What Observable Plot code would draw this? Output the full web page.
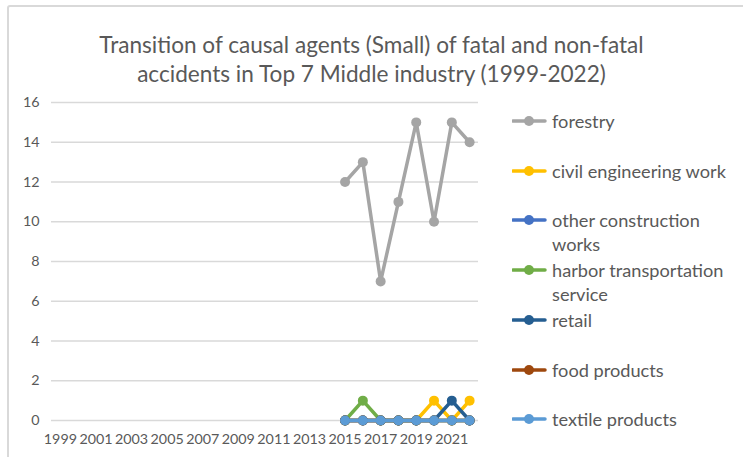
<!DOCTYPE html>
<html><head><meta charset="utf-8">
<script src="https://cdn.jsdelivr.net/npm/d3@7"></script>
<script src="https://cdn.jsdelivr.net/npm/@observablehq/plot@0.6"></script>
<style>
body{margin:0;background:#fff;font-family:Lato,"Open Sans",sans-serif;}
#wrap{position:relative;width:743px;height:457px;overflow:hidden;background:#fff;}
#frame{position:absolute;left:7px;top:5px;width:800px;height:500px;border:2px solid #d9d9d9;border-radius:3px;box-sizing:border-box;}
#title{position:absolute;left:0;top:30px;width:743px;text-align:center;color:#595959;font-size:22.6px;line-height:29px;}
#chart{position:absolute;left:0;top:90px;}
.item{position:absolute;left:512px;color:#595959;font-size:18.2px;line-height:24px;}
.item svg{position:absolute;left:0;top:0;}
.item span{position:absolute;left:40px;top:0;white-space:nowrap;}
</style>
</head><body>
<div id="wrap">
  <div id="frame"></div>
  <div id="title">Transition of causal agents (Small) of fatal and non-fatal<br>accidents in Top 7 Middle industry (1999-2022)</div>
  <div id="chart"></div>
  <div id="legend"></div>
</div>
<script>
const years = [1999,2000,2001,2002,2003,2004,2005,2006,2007,2008,2009,2010,2011,2012,2013,2014,2015,2016,2017,2018,2019,2020,2021,2022];
const xTickLabels = [1999,2001,2003,2005,2007,2009,2011,2013,2015,2017,2019,2021];
const yTickLabels = [0,2,4,6,8,10,12,14,16];
const seriesNames = ["forestry","civil engineering work","other construction works","harbor transportation service","retail","food products","textile products"];
const seriesColors = ["#A5A5A5","#FFC000","#4472C4","#70AD47","#255E91","#9E480E","#5B9BD5"];
const N = null;
const forestry     = [N,N,N,N,N,N,N,N,N,N,N,N,N,N,N,N,12,13,7,11,15,10,15,14];
const civilEng     = [N,N,N,N,N,N,N,N,N,N,N,N,N,N,N,N,0,0,0,0,0,1,0,1];
const otherConstr  = [N,N,N,N,N,N,N,N,N,N,N,N,N,N,N,N,0,0,0,0,0,0,0,0];
const harbor       = [N,N,N,N,N,N,N,N,N,N,N,N,N,N,N,N,0,1,0,0,0,0,0,0];
const retail       = [N,N,N,N,N,N,N,N,N,N,N,N,N,N,N,N,0,0,0,0,0,0,1,0];
const foodProducts = [N,N,N,N,N,N,N,N,N,N,N,N,N,N,N,N,0,0,0,0,0,0,0,0];
const textile      = [N,N,N,N,N,N,N,N,N,N,N,N,N,N,N,N,0,0,0,0,0,0,0,0];
const seriesValues = [forestry,civilEng,otherConstr,harbor,retail,foodProducts,textile];

const marks = [
  Plot.gridY({ticks: yTickLabels, stroke: "#d9d9d9", strokeOpacity: 1, strokeWidth: 1.3}),
  Plot.axisY({ticks: yTickLabels, tickSize: 0, tickPadding: 12, fontSize: 14.3, color: "#595959", label: null}),
  Plot.axisX({ticks: xTickLabels, tickSize: 0, tickPadding: 13, fontSize: 14.3, color: "#595959", label: null, tickFormat: d => String(d)})
];
seriesNames.forEach((name, i) => {
  const rows = years.map((y, j) => ({series: name, year: y, value: seriesValues[i][j]}));
  marks.push(Plot.line(rows, {x: "year", y: "value", stroke: seriesColors[i], strokeWidth: 3.5, strokeLinejoin: "round", strokeLinecap: "round"}));
  marks.push(Plot.dot(rows.filter(r => r.value != null), {x: "year", y: "value", fill: seriesColors[i], r: 5, stroke: "none"}));
});

const chart = Plot.plot({
  width: 490, height: 360,
  marginTop: 12, marginBottom: 30, marginLeft: 51, marginRight: 12,
  style: {fontFamily: "Lato, 'Open Sans', sans-serif", background: "transparent", color: "#595959", overflow: "visible"},
  x: {type: "linear", domain: [years[0] - 0.5, years[years.length - 1] + 0.5], label: null},
  y: {domain: [0, 16], label: null},
  marks
});
document.getElementById("chart").appendChild(chart);

// legend
function wrapLabel(s, max) {
  const words = s.split(" "); const lines = []; let cur = "";
  for (const w of words) {
    if (cur && (cur + " " + w).length > max) { lines.push(cur); cur = w; }
    else cur = cur ? cur + " " + w : w;
  }
  lines.push(cur); return lines;
}
const legend = document.getElementById("legend");
const legendTop = 121, legendStep = 49.7;
seriesNames.forEach((name, i) => {
  const div = document.createElement("div");
  div.className = "item";
  div.style.top = (legendTop + i * legendStep - 12) + "px";
  div.innerHTML = `<svg width="36" height="24"><line x1="1" x2="33" y1="12" y2="12" stroke="${seriesColors[i]}" stroke-width="3.5" stroke-linecap="round"/><circle cx="17" cy="12" r="5" fill="${seriesColors[i]}"/></svg><span>${wrapLabel(name, 22).join("<br>")}</span>`;
  legend.appendChild(div);
});
</script>
</body></html>
